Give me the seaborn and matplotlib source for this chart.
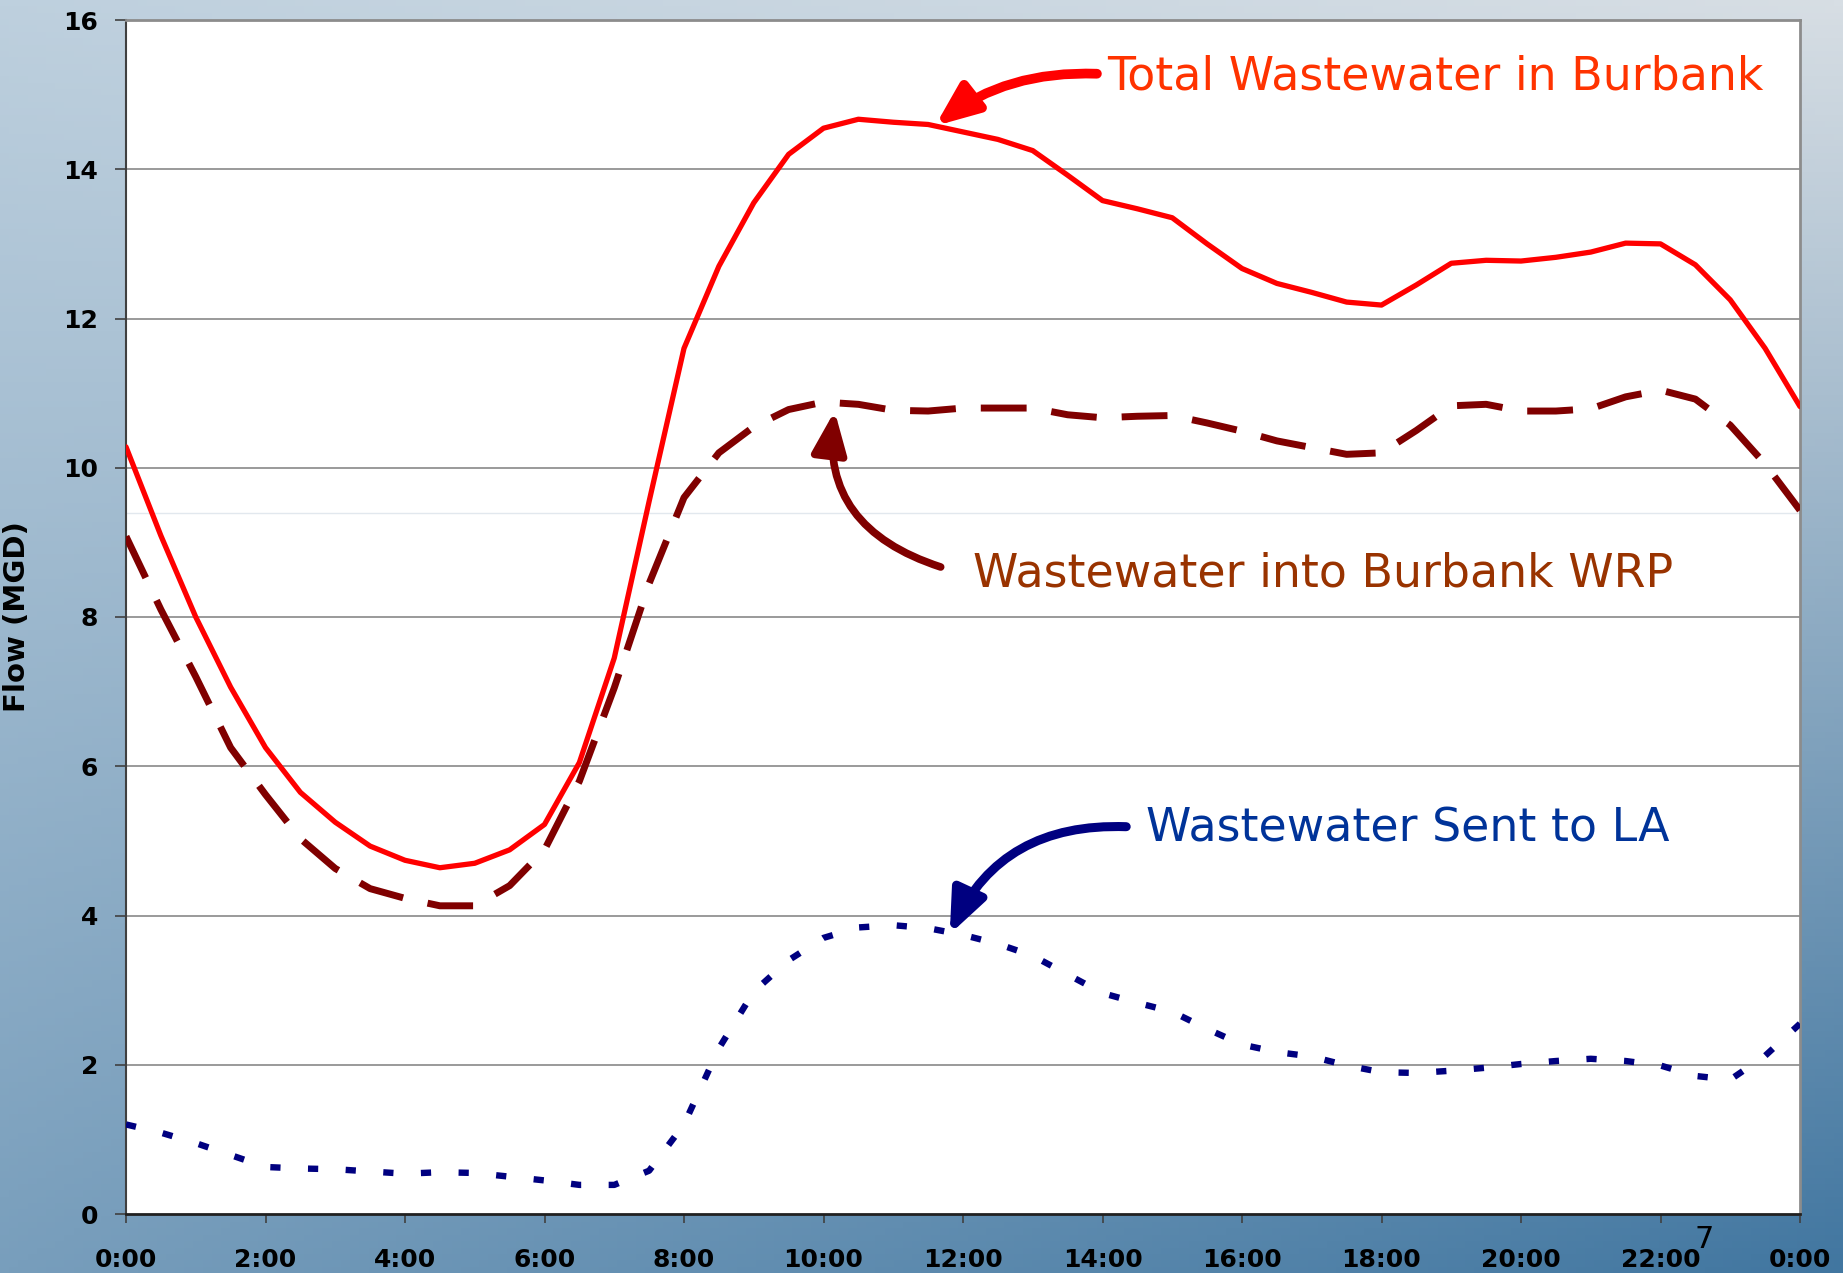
import matplotlib
matplotlib.use("Agg")
import matplotlib.pyplot as plt
import seaborn as sns
import pandas as pd
import numpy as np

# hours of the day, half-hour steps
hours = [h / 2 for h in range(49)]

total_burbank = [10.28, 9.09, 8.0, 7.06, 6.25, 5.65, 5.25, 4.93, 4.74, 4.64,
                 4.70, 4.88, 5.22, 6.05, 7.45, 9.55, 11.6, 12.7, 13.55, 14.2,
                 14.55, 14.67, 14.63, 14.6, 14.5, 14.4, 14.25, 13.92, 13.58, 13.47,
                 13.35, 13.0, 12.67, 12.47, 12.35, 12.22, 12.18, 12.45, 12.74, 12.78,
                 12.77, 12.82, 12.89, 13.01, 13.0, 12.72, 12.25, 11.6, 10.82]

into_wrp = [9.08, 8.1, 7.2, 6.25, 5.62, 5.03, 4.63, 4.36, 4.23, 4.13,
            4.13, 4.40, 4.88, 5.8, 7.05, 8.45, 9.6, 10.2, 10.55, 10.78,
            10.88, 10.85, 10.77, 10.76, 10.8, 10.8, 10.8, 10.71, 10.67, 10.69,
            10.7, 10.6, 10.49, 10.36, 10.27, 10.18, 10.2, 10.5, 10.83, 10.85,
            10.76, 10.76, 10.79, 10.95, 11.04, 10.92, 10.57, 10.05, 9.43]

sent_to_la = [1.2, 1.09, 0.95, 0.79, 0.63, 0.61, 0.6, 0.57, 0.54, 0.56,
              0.55, 0.5, 0.45, 0.39, 0.39, 0.58, 1.2, 2.22, 2.98, 3.4,
              3.7, 3.84, 3.87, 3.83, 3.74, 3.62, 3.46, 3.21, 2.96, 2.83,
              2.71, 2.48, 2.27, 2.17, 2.11, 1.99, 1.9, 1.89, 1.92, 1.96,
              2.01, 2.05, 2.08, 2.05, 1.99, 1.85, 1.8, 2.12, 2.55]

x_ticks = list(range(0, 25, 2))
x_labels = ["0:00", "2:00", "4:00", "6:00", "8:00", "10:00", "12:00", "14:00",
            "16:00", "18:00", "20:00", "22:00", "0:00"]
y_ticks = list(range(0, 17, 2))

df = pd.DataFrame({"hour": hours, "total": total_burbank,
                   "wrp": into_wrp, "la": sent_to_la})

sns.set_style("white")
plt.rcParams["font.family"] = ["DejaVu Sans"]

fig = plt.figure(figsize=(18.43, 12.73), dpi=100)

# slide background gradient
bg = fig.add_axes([0, 0, 1, 1], zorder=-10)
tl = np.array([190, 208, 222]) / 255
tr = np.array([215, 222, 228]) / 255
bl = np.array([120, 158, 188]) / 255
br = np.array([65, 118, 160]) / 255
yy, xx = np.mgrid[0:1:200j, 0:1:200j]
grad = ((1 - yy)[..., None] * ((1 - xx)[..., None] * tl + xx[..., None] * tr)
        + yy[..., None] * ((1 - xx)[..., None] * bl + xx[..., None] * br))
bg.imshow(grad, aspect="auto", extent=[0, 1, 0, 1], origin="upper")
bg.axis("off")

ax = fig.add_axes([126 / 1843, 59 / 1273, 1674 / 1843, 1194 / 1273])
ax.set_facecolor("white")

for y in y_ticks[1:-1]:
    ax.axhline(y, color="#7f7f7f", lw=1.1, zorder=1)
ax.axhline(9.39, color="#e2e8ee", lw=1.0, zorder=1)

sns.lineplot(data=df, x="hour", y="total", ax=ax, color="#ff0000", lw=3.8,
             zorder=3)
sns.lineplot(data=df, x="hour", y="wrp", ax=ax, color="#800000", lw=5,
             linestyle=(0, (6.6, 3.6)), zorder=3)
sns.lineplot(data=df, x="hour", y="la", ax=ax, color="#000080", lw=4.6,
             linestyle=(0, (1.6, 4.3)), zorder=3)

ax.set_xlim(0, 24)
ax.set_ylim(0, 16)
ax.set_xticks(x_ticks)
ax.set_xticklabels(x_labels, fontsize=18, fontweight="bold")
ax.set_yticks(y_ticks)
ax.set_yticklabels([str(v) for v in y_ticks], fontsize=18, fontweight="bold")
ax.tick_params(axis="y", length=8, width=1.2, pad=12, color="#404040",
               labelcolor="black", left=True)
ax.tick_params(axis="x", length=6.5, width=1.2, pad=18, color="#404040",
               labelcolor="black", bottom=True)
ax.set_xlabel("")
ax.set_ylabel("Flow (MGD)", fontsize=21, fontweight="bold", color="black")
ax.yaxis.set_label_coords(-0.057, 0.5)

for side in ["top", "right"]:
    ax.spines[side].set_color("#8c8c8c")
    ax.spines[side].set_linewidth(2)
ax.spines["left"].set_color("#404040")
ax.spines["left"].set_linewidth(1.5)
ax.spines["bottom"].set_color("#202020")
ax.spines["bottom"].set_linewidth(2)

# annotations
arrow_kw = dict(arrowstyle="-|>,head_length=0.85,head_width=0.35",
                mutation_scale=30, shrinkA=0, shrinkB=0)

ax.annotate("", xy=(11.6, 14.58), xytext=(13.92, 15.28),
            arrowprops=dict(color="#ff0000", lw=7,
                            connectionstyle="angle3,angleA=178,angleB=38",
                            **arrow_kw), zorder=5)
ax.text(14.06, 15.24, "Total Wastewater in Burbank", color="#ff3300",
        fontsize=33, va="center", ha="left", zorder=5)

ax.annotate("", xy=(10.16, 10.76), xytext=(11.68, 8.67),
            arrowprops=dict(color="#800000", lw=5.5,
                            connectionstyle="angle3,angleA=162,angleB=83",
                            **arrow_kw), zorder=5)
ax.text(12.14, 8.58, "Wastewater into Burbank WRP", color="#993300",
        fontsize=33, va="center", ha="left", zorder=5)

ax.annotate("", xy=(11.81, 3.75), xytext=(14.34, 5.19),
            arrowprops=dict(color="#000080", lw=6.5,
                            connectionstyle="angle3,angleA=178,angleB=65",
                            **arrow_kw), zorder=5)
ax.text(14.62, 5.16, "Wastewater Sent to LA", color="#003399",
        fontsize=33, va="center", ha="left", zorder=5)

fig.text(1704 / 1843, 1 - 1240 / 1273, "7", fontsize=22, color="black",
         ha="center", va="center")

fig.savefig("out.png", dpi=100)
